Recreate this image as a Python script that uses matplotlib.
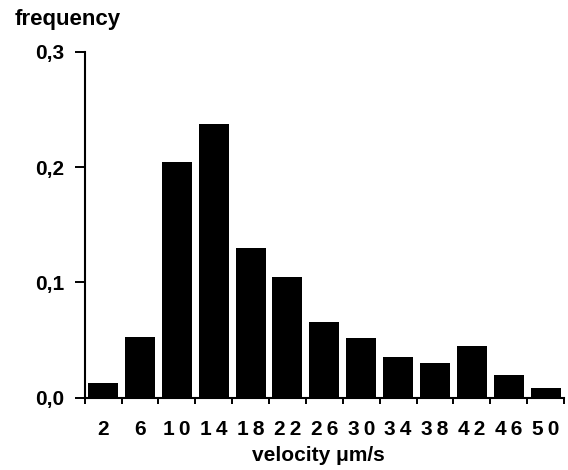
import matplotlib.pyplot as plt
import numpy as np

plt.rcParams['font.family'] = ['Liberation Sans', 'DejaVu Sans']

# velocity bins (µm/s), centres and measured frequencies
bin_centres = [2, 6, 10, 14, 18, 22, 26, 30, 34, 38, 42, 46, 50]
frequency = [0.0126, 0.0525, 0.204, 0.237, 0.130, 0.105, 0.066,
             0.052, 0.035, 0.030, 0.045, 0.020, 0.008]
bin_edges = list(range(0, 53, 4))
y_ticks = [0.0, 0.1, 0.2, 0.3]
y_labels = ['0,0', '0,1', '0,2', '0,3']

fig = plt.figure(figsize=(5.68, 4.70), dpi=100)
ax = fig.add_axes([0.149, 0.154, 0.844, 0.736])

ax.bar(bin_centres, frequency, width=3.25, color='black', edgecolor='none')

ax.set_xlim(0, 52)
ax.set_ylim(0, 0.3)

for s in ['top', 'right']:
    ax.spines[s].set_visible(False)
for s in ['left', 'bottom']:
    ax.spines[s].set_linewidth(1.5)

# ticks at bin edges, labels at bin centres
ax.set_xticks(bin_edges)
ax.set_xticklabels([])
ax.tick_params(axis='x', which='major', direction='out', length=4.5, width=1.4)
ax.set_xticks(bin_centres, minor=True)
ax.set_xticklabels(['\u2009'.join(str(c)) for c in bin_centres], minor=True,
                   fontsize=15, fontweight='bold')
ax.tick_params(axis='x', which='minor', length=0, pad=16)

ax.set_yticks(y_ticks)
ax.set_yticklabels(y_labels, fontsize=15, fontweight='bold')
ax.tick_params(axis='y', direction='out', length=7.5, width=1.4, pad=7)

fig.text(15 / 568, 1 - 25 / 470, 'frequency', fontsize=16, fontweight='bold',
         ha='left', va='baseline')
fig.text(252 / 568, 1 - 461 / 470, 'velocity \u03bcm/s', fontsize=15,
         fontweight='bold', ha='left', va='baseline')

fig.savefig('out.png', dpi=100)
